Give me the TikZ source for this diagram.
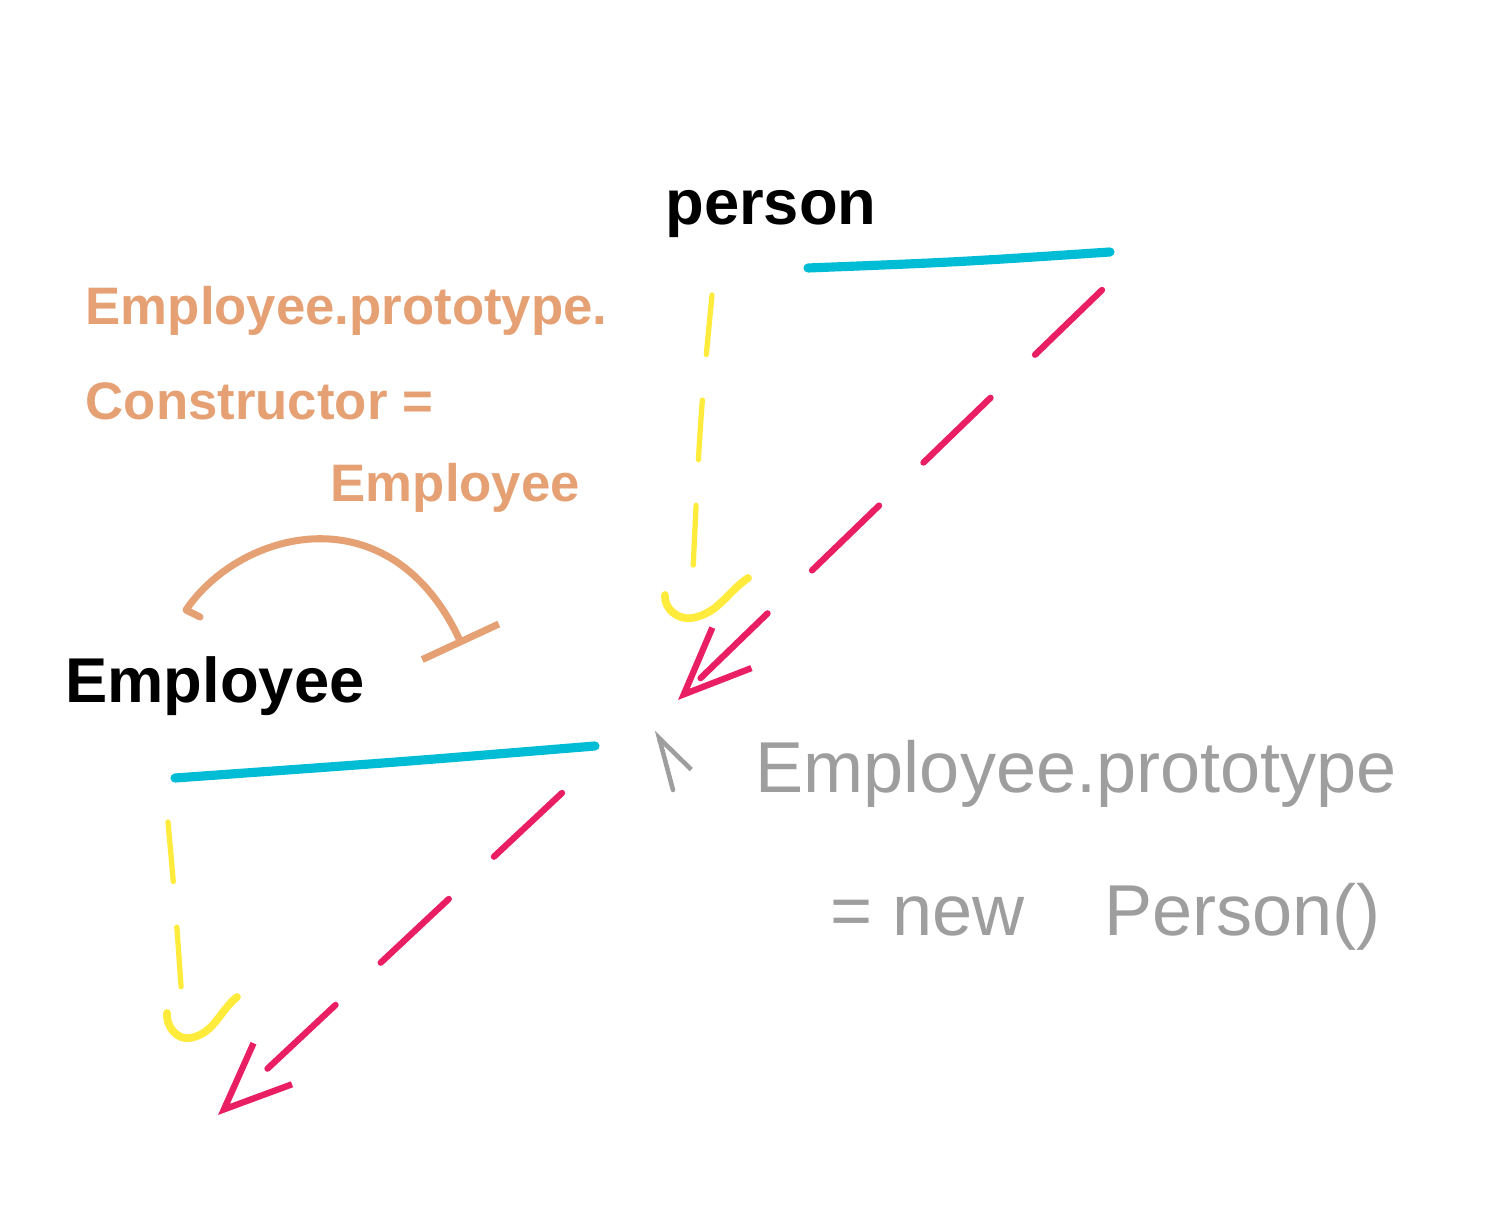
\documentclass[tikz,border=0pt]{standalone}
\usepackage{fontspec}
\setmainfont{Liberation Sans}
\usepackage{tikz}
\usetikzlibrary{arrows.meta, positioning}
\definecolor{barcyan}{RGB}{0,188,212}
\definecolor{linkyellow}{RGB}{255,235,59}
\definecolor{linkpink}{RGB}{233,30,99}
\definecolor{noteorange}{RGB}{229,160,115}
\definecolor{notegray}{RGB}{158,158,158}

\begin{document}
\begin{tikzpicture}[x=0.01cm, y=-0.01cm, line cap=round, line join=round,
    every node/.style={inner sep=0pt},
    classname/.style={font=\fontsize{18}{22}\selectfont\bfseries, anchor=base},
    orangenote/.style={noteorange, font=\fontsize{15}{18}\selectfont\bfseries, anchor=base west},
    graynote/.style={notegray, font=\fontsize{20.5}{24}\selectfont, anchor=base west},
    classbar/.style={barcyan, line width=2.6pt},
    protolink/.style={linkpink, line width=1.8pt, dash pattern=on 26.5pt off 17.6pt,
        -{Straight Barb[length=19pt, width=16pt, line width=1.8pt]}},
    ctorlink/.style={linkyellow, line width=1.5pt, dash pattern=on 17pt off 13pt},
    ctorhook/.style={linkyellow, line width=2.2pt}]
    \useasboundingbox (0,0) rectangle (1505,1225);

    \node[classname] (person) at (771,225) {person};
    \node[classname] (employee) at (215,703) {Employee};

    \node[orangenote] (ctor1) at (85,325) {Employee.prototype.};
    \node[orangenote] (ctor2) at (85,420) {Constructor =};
    \node[orangenote] (ctor3) at (330,502) {Employee};

    \node[graynote] (proto1) at (755,793) {Employee.prototype};
    \node[graynote] (proto2) at (830,936) {= new\hspace{1.1em}Person()};

    \coordinate (pbarL) at (808,268);
    \coordinate (pbarR) at (1110,252);
    \coordinate (ebarL) at (175,778);
    \coordinate (ebarR) at (595,746);
    \draw[classbar] (pbarL) .. controls (960,262) .. (pbarR);
    \draw[classbar] (ebarL) .. controls (400,762) .. (ebarR);

    \coordinate (plinkA) at (1102,290);
    \coordinate (plinkB) at (678,700);
    \coordinate (elinkA) at (562,793);
    \coordinate (elinkB) at (218,1115);
    \draw[protolink] (plinkA) -- (plinkB);
    \draw[protolink] (elinkA) -- (elinkB);

    \coordinate (ylinkA) at (712,295);
    \coordinate (ylinkB) at (692,592);
    \coordinate (yhookA) at (665,595);
    \coordinate (yhookB) at (748,578);
    \coordinate (zlinkA) at (168,822);
    \coordinate (zlinkB) at (182,1000);
    \coordinate (zhookA) at (167,1013);
    \coordinate (zhookB) at (237,997);
    \begin{scope}[every path/.append style=ctorhook]
        \draw[ctorlink] (ylinkA) .. controls (700,420) .. (ylinkB);
        \draw (yhookA) to[out=-95, in=190] (692,618) to[out=10, in=-145] (yhookB);
        \draw[ctorlink] (zlinkA) .. controls (175,900) .. (zlinkB);
        \draw (zhookA) to[out=-95, in=190] (190,1038) to[out=10, in=-140] (zhookB);
    \end{scope}

    \coordinate (ocurl) at (200,617);
    \coordinate (ostart) at (186,610);
    \coordinate (oend) at (462,645);
    \draw[noteorange, line width=2pt, -{Bar[width=24pt, line width=2pt]}]
        (ocurl) -- (ostart) .. controls (240,530) and (390,490) .. (oend);

    \coordinate (gtail) at (673,790);
    \coordinate (ghead) at (657,730);
    \draw[notegray, line width=1.3pt, -{Straight Barb[right, length=11pt, width=13pt, line width=1.3pt]}]
        (gtail) -- (ghead);
\end{tikzpicture}
\end{document}
